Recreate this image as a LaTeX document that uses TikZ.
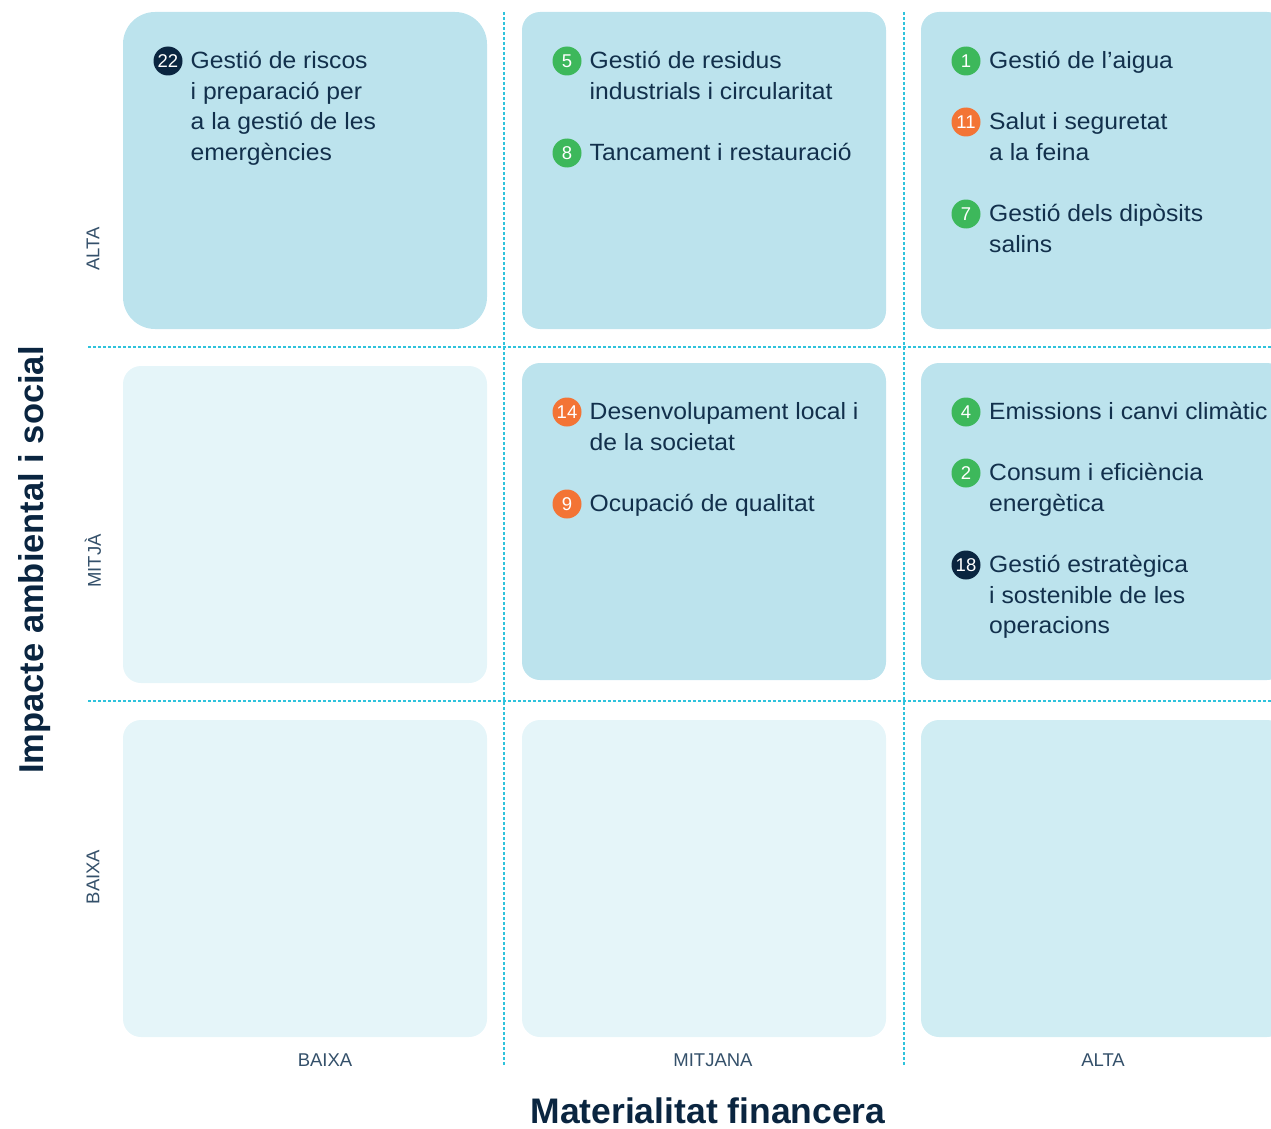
\documentclass[tikz,border=0pt]{standalone}
\usepackage{fontspec}
\setmainfont{Liberation Sans}
\newfontfamily\widesans[FakeStretch=1.05]{Liberation Sans}
\definecolor{celldark}{HTML}{BCE3ED}
\definecolor{cellpale}{HTML}{E5F5F9}
\definecolor{cellmid}{HTML}{D0EDF3}
\definecolor{gridcyan}{HTML}{2EC3DC}
\definecolor{textnavy}{HTML}{12304C}
\definecolor{badgenavy}{HTML}{0A2540}
\definecolor{badgegreen}{HTML}{3DB85B}
\definecolor{badgeorange}{HTML}{F37435}
\definecolor{labelgray}{HTML}{34506A}
\newcommand\bodyfont{\widesans\fontsize{23.5}{30.6}\selectfont}
\newcommand\badgefont{\fontsize{18.5}{18.5}\selectfont}
\newcommand\levelfont{\fontsize{18.5}{18.5}\selectfont}
\newcommand\axisfont{\fontsize{34.5}{34.5}\selectfont\bfseries}
\newcommand\lines[1]{\begin{tabular}[t]{@{}l@{}}#1\end{tabular}}
\tikzset{
  cell/.style={draw=none, minimum width=364pt, inner sep=0pt, outer sep=0pt},
  badge/.style={circle, fill=#1, minimum size=29pt, inner sep=0pt, text=white, font=\badgefont},
  topic/.style={anchor=base west, inner sep=0pt, text=textnavy, font=\bodyfont},
  level/.style={inner sep=0pt, text=labelgray, font=\levelfont},
  axistitle/.style={inner sep=0pt, text=badgenavy, font=\axisfont},
  gridline/.style={draw=gridcyan, line width=1.4pt, dash pattern=on 3pt off 2pt}
}
\begin{document}
\begin{tikzpicture}[x=1pt, y=-1pt]
\useasboundingbox (0,0) rectangle (1271,1129);
\clip (0,0) rectangle (1271,1129);
% cells
\node[cell, fill=celldark, rounded corners=32pt, minimum height=317pt] (c11) at (305,170.5) {};
\node[cell, fill=celldark, rounded corners=18pt, minimum height=317pt] (c21) at (704,170.5) {};
\node[cell, fill=celldark, rounded corners=18pt, minimum height=317pt] (c31) at (1103,170.5) {};
\node[cell, fill=cellpale, rounded corners=18pt, minimum height=317pt] (c12) at (305,524.5) {};
\node[cell, fill=celldark, rounded corners=18pt, minimum height=317pt] (c22) at (704,521.5) {};
\node[cell, fill=celldark, rounded corners=18pt, minimum height=317pt] (c32) at (1103,521.5) {};
\node[cell, fill=cellpale, rounded corners=18pt, minimum height=317pt] (c13) at (305,878.5) {};
\node[cell, fill=cellpale, rounded corners=18pt, minimum height=317pt] (c23) at (704,878.5) {};
\node[cell, fill=cellmid, rounded corners=18pt, minimum height=317pt] (c33) at (1103,878.5) {};
% grid lines
\coordinate (v1a) at (504,12);  \coordinate (v1b) at (504,1066);
\coordinate (v2a) at (904,12); \coordinate (v2b) at (904,1066);
\coordinate (h1a) at (88,347); \coordinate (h1b) at (1271,347);
\coordinate (h2a) at (88,701); \coordinate (h2b) at (1271,701);
\draw[gridline] (v1a) -- (v1b);
\draw[gridline] (v2a) -- (v2b);
\draw[gridline] (h1a) -- (h1b);
\draw[gridline] (h2a) -- (h2b);
% column 1, row 1
\node[badge=badgenavy] (b22) at (168,61) {22};
\node[topic] (t22) at (190.5,68.5) {\lines{Gestió de riscos\\ i preparació per\\ a la gestió de les\\ emergències}};
% column 2, row 1
\node[badge=badgegreen] (b5) at (567,61) {5};
\node[topic] (t5) at (589.5,68.5) {\lines{Gestió de residus\\ industrials i circularitat}};
\node[badge=badgegreen] (b8) at (567,153) {8};
\node[topic] (t8) at (589.5,160.5) {\lines{Tancament i restauració}};
% column 3, row 1
\node[badge=badgegreen] (b1) at (966,61) {1};
\node[topic] (t1) at (989,68.5) {\lines{Gestió de l’aigua}};
\node[badge=badgeorange] (b11) at (966,122) {11};
\node[topic] (t11) at (989,129.5) {\lines{Salut i seguretat\\ a la feina}};
\node[badge=badgegreen] (b7) at (966,214) {7};
\node[topic] (t7) at (989,221.5) {\lines{Gestió dels dipòsits\\ salins}};
% column 2, row 2
\node[badge=badgeorange] (b14) at (567,412) {14};
\node[topic] (t14) at (589.5,419.5) {\lines{Desenvolupament local i\\ de la societat}};
\node[badge=badgeorange] (b9) at (567,504) {9};
\node[topic] (t9) at (589.5,511.5) {\lines{Ocupació de qualitat}};
% column 3, row 2
\node[badge=badgegreen] (b4) at (966,412) {4};
\node[topic] (t4) at (989,419.5) {\lines{Emissions i canvi climàtic}};
\node[badge=badgegreen] (b2) at (966,473) {2};
\node[topic] (t2) at (989,480.5) {\lines{Consum i eficiència\\ energètica}};
\node[badge=badgenavy] (b18) at (966,565) {18};
\node[topic] (t18) at (989,572.5) {\lines{Gestió estratègica\\ i sostenible de les\\ operacions}};
% level labels
\node[level, rotate=90] (ralta) at (93,249) {ALTA};
\node[level, rotate=90] (rmitja) at (93,561) {MITJÀ};
\node[level, rotate=90] (rbaixa) at (93,877) {BAIXA};
\node[level] (cbaixa) at (325,1060) {BAIXA};
\node[level] (cmitjana) at (713,1060) {MITJANA};
\node[level] (calta) at (1103,1060) {ALTA};
% axis titles
\node[axistitle, rotate=90] (yaxis) at (35,560) {Impacte ambiental i social};
\node[axistitle] (xaxis) at (708,1110.5) {\fontsize{35.5}{35.5}\selectfont Materialitat financera};
\end{tikzpicture}
\end{document}
